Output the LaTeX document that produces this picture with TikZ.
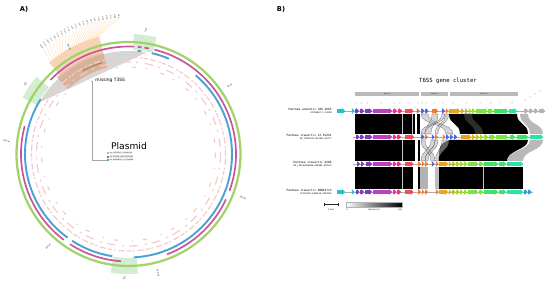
\documentclass[tikz,border=0pt]{standalone}
\usepackage{fontspec}
\setsansfont{DejaVu Sans}
\setmonofont{DejaVu Sans Mono}
\usepackage{tikz}
\usetikzlibrary{arrows.meta,positioning}

\definecolor{ringgreen}{HTML}{A2D36A}
\definecolor{ringmag}{HTML}{C8549C}
\definecolor{ringblue}{HTML}{4CA0D4}
\definecolor{featpink}{HTML}{F7CACA}
\definecolor{gigreen}{HTML}{CBEACB}
\definecolor{hrppeach}{HTML}{F6C8A2}
\definecolor{hrpbrown}{HTML}{D9A07C}
\definecolor{gcyan}{HTML}{22C3C8}
\definecolor{gpurple}{HTML}{7B3DC0}
\definecolor{gmagenta}{HTML}{C23CC4}
\definecolor{gpink}{HTML}{EB3285}
\definecolor{gred}{HTML}{F44A5C}
\definecolor{gorange}{HTML}{F67A30}
\definecolor{gblue}{HTML}{4A66E2}
\definecolor{gyellow}{HTML}{E8A41C}
\definecolor{ggold}{HTML}{C9BA1E}
\definecolor{glime}{HTML}{A6D828}
\definecolor{glgreen}{HTML}{7CE442}
\definecolor{ggreen}{HTML}{3EE46A}
\definecolor{gteal}{HTML}{2CE4A2}
\definecolor{gsky}{HTML}{2A98E2}
\definecolor{ggrey}{HTML}{B4B4B4}

\begin{document}
\begin{tikzpicture}[x=0.05cm, y=-0.05cm,
  panel/.style={font=\sffamily\bfseries\fontsize{9.5}{11}\selectfont, inner sep=0pt},
  gibox/.style={fill=gigreen, opacity=0.85},
  gilabel/.style={font=\sffamily\fontsize{3.2}{4}\selectfont, inner sep=0pt},
  ringline/.style={draw=#1},
  feat/.style={draw=featpink, line width=1.7pt},
  tick/.style={font=\sffamily\fontsize{2.8}{3.4}\selectfont, inner sep=0pt},
  hrpline/.style={draw=orange!45, line width=0.25pt},
  hrplabel/.style={font=\sffamily\fontsize{2.5}{3}\selectfont, inner sep=0pt, text=black!85},
  note/.style={font=\sffamily\fontsize{6.3}{7}\selectfont, inner sep=0.5pt},
  plasmidttl/.style={font=\sffamily\fontsize{13}{15}\selectfont, inner sep=0pt},
  legkey/.style={minimum size=2.6pt, inner sep=0pt},
  legtxt/.style={font=\sffamily\fontsize{2.4}{3}\selectfont, fill=gray!12, inner sep=0.4pt},
  title/.style={font=\ttfamily\fontsize{8}{9}\selectfont, inner sep=0pt},
  blockbar/.style={fill=gray!55},
  blocklbl/.style={font=\sffamily\fontsize{2.6}{3}\selectfont, inner sep=0pt, text=black!80},
  strain/.style={font=\ttfamily\fontsize{4.1}{5}\selectfont, anchor=south east, inner sep=0.3pt},
  acc/.style={font=\ttfamily\fontsize{3.1}{4}\selectfont, anchor=north east, inner sep=0.3pt},
  genelbl/.style={font=\sffamily\fontsize{2.2}{2.6}\selectfont, text=gray!70, rotate=50, anchor=south west, inner sep=0pt},
  backbone/.style={draw=gray!65, line width=0.35pt},
  gene/.style={draw=#1, line width=4.6pt, -{Triangle[length=3.8pt, width=8.2pt]}},
  xribbon/.style={fill=gray!60, fill opacity=0.55, draw=gray!30!black, line width=0.15pt},
  greyribbon/.style={fill=gray!55},
  scalebar/.style={{Bar[width=3pt]}-{Bar[width=3pt]}, line width=0.4pt, draw=gray!30!black},
  cbar/.style={font=\sffamily\fontsize{2.8}{3.4}\selectfont, inner sep=0pt}
]
\useasboundingbox (0,0) rectangle (550,283);

% A) plasmid map
\node[panel] (lblA) at (24,9) {A)};
\begin{scope}[shift={(128.5,154)}, yscale=-1]
  \foreach \a/\w/\n/\r in {82/5.5/1/-98, 146/6/2/-90, -92/6.5/3/-92}{
    \fill[gibox] (\a-\w:104) arc[start angle=\a-\w, end angle=\a+\w, radius=104]
      -- (\a+\w:120) arc[start angle=\a+\w, end angle=\a-\w, radius=120] -- cycle;
    \node[gilabel, rotate=\r] (gilbl\n) at (\a:124.5) {GI\textsubscript{\n}};
  }
  \fill[gray!32] (80:103) arc[start angle=80, end angle=150, radius=103] -- cycle;
  \fill[hrppeach, opacity=0.8] (104:105) arc[start angle=104, end angle=131, radius=105]
    -- (131:121) arc[start angle=131, end angle=104, radius=121] -- cycle;
  \fill[hrpbrown, opacity=0.65] (104:89) arc[start angle=104, end angle=133, radius=89]
    -- (133:105) arc[start angle=133, end angle=104, radius=105] -- cycle;
  \draw[hrpbrown!75!black, line width=1.3pt] (106:95) arc[start angle=106, end angle=119, radius=95];
  \draw[feat, dash pattern=on 6pt off 2pt on 3pt off 4pt on 9pt off 3pt] (0,0) circle[radius=97];
  \draw[feat, dash pattern=on 3pt off 7pt on 12pt off 10pt] (0,0) circle[radius=92];
  \draw[feat, dash pattern=on 2pt off 14pt on 6pt off 20pt] (0,0) circle[radius=87];
  \draw[ringline=ringgreen, line width=3.2pt] (0,0) circle[radius=112];
  \foreach \s/\e in {-20/76, -69/-25, 237/266, 165/233, 87/136.5, 79/81.5, 83/85}
    \draw[ringline=ringmag, line width=2.4pt] (\s:107.5) arc[start angle=\s, end angle=\e, radius=107.5];
  \foreach \s/\e in {-87/49.5, 67/77, 83/85, 148/234, 237/261}
    \draw[ringline=ringblue, line width=2.7pt] (\s:103.5) arc[start angle=\s, end angle=\e, radius=103.5];
  \foreach \a/\t in {34/50 kb, -21/100 kb, -76/150 kb}
    \node[tick, anchor=west, rotate=\a] (tk\a) at (\a:119) {\t};
  \foreach \a/\t in {-131/200 kb, 174/250 kb, 119/300 kb}
    \node[tick, anchor=east, rotate=\a-180] (tk\a) at (\a:119) {\t};
  \foreach \i/\g in {0/hrpA, 1/hrpB, 2/hrcJ, 3/hrpD, 4/hrpE, 5/hrpF, 6/hrcC, 7/hrpT,
      8/hrpV, 9/hrcU, 10/hrcT, 11/hrcS, 12/hrcR, 13/hrcQ, 14/hrpO, 15/hrpP, 16/hrcN,
      17/hrpJ, 18/hrcV, 19/hrpQ, 20/hrpK, 21/hrpN}{
    \pgfmathsetmacro\ain{105+\i*25/21}
    \pgfmathsetmacro\aout{94+\i*35/21}
    \node[hrplabel, anchor=east, rotate=\aout-180] (hrp\i) at (\aout:136) {\g};
    \draw[hrpline] (\ain:121) -- (hrp\i.east);
  }
\end{scope}

\node[note, anchor=west] (missing) at (95,80) {missing T3SS};
\coordinate (t3mark) at (92,80.5);
\node[plasmidttl] (plasmid) at (129,146) {Plasmid};
\node[legkey, fill=ringgreen] (key1) at (108,153.2) {};
\node[legtxt, right=0.5pt of key1] (leg1) {P.s. ZJ-FGZX1 \,|\, CP049116};
\node[legkey, fill=ringmag] (key2) at (108,156.6) {};
\node[legtxt, right=0.5pt of key2] (leg2) {P.s. DC283 \,|\, NZ\_CP017592};
\node[legkey, fill=ringblue] (key3) at (108,160) {};
\node[legtxt, right=0.5pt of key3] (leg3) {P.s. RON18713 \,|\, CP116286};
\draw[gray!70, line width=0.4pt, {Triangle[length=2.2pt, width=2.2pt]}-] (t3mark) |- (key3.west);

% B) T6SS synteny
\node[panel] (lblB) at (281,9) {B)};
\node[title] (t6ss) at (448,81) {T6SS gene cluster};
\foreach \s/\e/\n/\t in {355/419/I/block I, 421/448/II/block II, 450/518/III/block III}{
  \fill[blockbar] (\s,92) rectangle (\e,96.5);
  \node[blocklbl] (blk\n) at ({(\s+\e)/2},94.3) {\t};
}

% rows 1-2
\fill[black] (355,114) rectangle (415,134);
\fill[black] (417,114) rectangle (420,134);
\fill[black] (449,114) .. controls (449,125) and (460,123) .. (460,134) -- (528,134)
  .. controls (528,123) and (517,125) .. (517,114) -- cycle;
\fill[gray!35!black] (464,114) .. controls (464,125) and (475,123) .. (475,134) -- (483,134)
  .. controls (483,123) and (472,125) .. (472,114) -- cycle;
\fill[greyribbon] (520,114) .. controls (520,125) and (530,123) .. (530,134) -- (543,134)
  .. controls (543,123) and (528,125) .. (528,114) -- cycle;
\foreach \a/\b/\c/\d in {421/428/446/453, 432/438/425/431, 442/445/421/424.5, 445.5/448.5/435/438}
  \filldraw[xribbon] (\a,114) .. controls (\a,125) and (\c,123) .. (\c,134) -- (\d,134)
    .. controls (\d,123) and (\b,125) .. (\b,114) -- cycle;
% rows 2-3
\fill[black] (355,140) rectangle (415,161);
\fill[black] (418,140) rectangle (420,161);
\fill[black] (450,140) .. controls (438,143) and (439,150) .. (439,161) -- (507,161)
  .. controls (507,150) and (528,150) .. (528,140) -- cycle;
\fill[greyribbon] (530,140) .. controls (530,151) and (507,150) .. (507,161) -- (523,161)
  .. controls (523,150) and (543,151) .. (543,140) -- cycle;
\foreach \a/\b/\c/\d in {421/425/431/435, 431/435/421/425, 435/438/425/428, 442/449/435.5/438.5}
  \filldraw[xribbon] (\a,140) .. controls (\a,151) and (\c,150) .. (\c,161) -- (\d,161)
    .. controls (\d,150) and (\b,151) .. (\b,140) -- cycle;
% rows 3-4
\fill[black] (355,167) rectangle (413,189);
\fill[black] (418,167) rectangle (419.5,189);
\fill[gray!60] (419.5,167) rectangle (428,189);
\fill[gray!50] (435,167) rectangle (438.5,189);
\fill[black] (439,167) rectangle (523,189);
\foreach \x/\ya/\yb in {402.5/114/134, 412/114/134, 402.5/140/161, 402.5/167/189, 483/167/189}
  \draw[gray!45, line width=0.3pt] (\x,\ya) -- (\x,\yb);

% backbones and genes
\draw[backbone] (337,111) -- (545,111);
\draw[backbone] (353,137) -- (543,137);
\draw[backbone] (353,164) -- (523,164);
\draw[backbone] (337,192) -- (533,192);
\foreach \s/\e/\c in {337/345/gcyan, 351.5/354.5/gcyan, 355/359/gpurple, 359.5/364/gpurple,
    365/372/gpurple, 372.5/392/gmagenta, 392.5/397/gpink, 397.5/402/gpink, 405/413.5/gred,
    416.5/419.5/gred, 421/424.5/gblue, 425/428.5/gblue, 432/438/gorange, 442/445/gblue,
    445.5/448.5/gorange, 449/460/gyellow, 460.5/464/gyellow, 464.5/468/ggold, 468.5/471.5/glime,
    472/475/glime, 475.5/487.5/glgreen, 488/493/glgreen, 494/508/ggreen, 509/517/gteal,
    524/528/ggrey, 529/533/ggrey, 534/538/ggrey, 539/545/ggrey}
  \draw[gene=\c] (\s,111) -- (\e,111);
\foreach \s/\e/\c in {355.5/359.5/gpurple, 360/364/gpurple, 365/372/gpurple, 372.5/392/gmagenta,
    392.5/396.5/gpink, 397/401/gpink, 405/414/gred, 421/424.5/gblue, 425/428/gorange,
    431.5/434.5/gblue, 435/438/gorange, 442.5/445.5/gorange, 446/449/gblue, 450/453/gblue,
    453.5/457/gblue, 461/471/gyellow, 472/475/ggold, 475.5/479/ggold, 479.5/483/glime,
    483.5/488/glime, 489/495/glgreen, 496/508/glgreen, 510/515/ggreen, 517/528/ggreen, 530/543/gteal}
  \draw[gene=\c] (\s,137) -- (\e,137);
\foreach \s/\e/\c in {357/360/gpurple, 360.5/364/gpurple, 365.5/372/gpurple, 372.5/392/gmagenta,
    392.5/396.5/gpink, 397/401/gpink, 405/413.5/gred, 418/421/gorange, 421.5/424.5/gorange,
    425/428/gorange, 431.5/434.5/gblue, 435.5/438.5/gorange, 439/448/gyellow, 448.5/451.5/ggold,
    452/455.5/ggold, 456/459.5/glime, 460/463/glime, 463.5/467/glime, 467.5/478/glgreen,
    479/483/glgreen, 484/498/ggreen, 499/506/ggreen, 507/523/gteal}
  \draw[gene=\c] (\s,164) -- (\e,164);
\foreach \s/\e/\c in {337/345/gcyan, 351.5/354.5/gcyan, 355.5/359.5/gpurple, 360/364/gpurple,
    365/372/gpurple, 372.5/392/gmagenta, 392.5/396.5/gpink, 397/401/gpink, 405/413.5/gred,
    418/421/gorange, 421.5/424.5/gorange, 425/428/gorange, 435.5/438.5/gorange, 439/448/gyellow,
    448.5/451.5/ggold, 452/455.5/ggold, 456/459.5/glime, 460/463/glime, 463.5/467/glime,
    467.5/478/glgreen, 479/483/glgreen, 484/498/ggreen, 499/506/ggreen, 507/523/gteal,
    524/527.5/gsky, 528/531.5/gsky}
  \draw[gene=\c] (\s,192) -- (\e,192);
\foreach \x/\y/\g in {356/105/tssA, 361/105/tssB, 367/105/tssC, 381/105/tssE, 394/105/tssF,
    399/105/tssG, 408/105/tssH, 418/105/hcp, 422/105/tagF, 426/105/tagL, 434/105/tssI,
    443/105/paar, 453/105/tssJ, 466/105/tssK, 480/105/tssL, 490/105/tssM, 500/105/vgrG,
    512/105/tagA, 525/102/hyp, 530/99/hyp, 535/96/hyp, 540/93/hyp}
  \node[genelbl] (gl\x) at (\x,\y) {\g};

% strain labels
\node[strain] (sp1) at (332,110.6) {\textit{Pantoea ananatis} LMG 2665};
\node[acc] (ac1) at (332,111.4) {KF590067:1-12898};
\node[strain] (sp2) at (332,136.6) {\textit{Pantoea stewartii} ZJ-FGZX1};
\node[acc] (ac2) at (332,137.4) {NZ\_CP049115:933925-96777};
\node[strain] (sp3) at (332,163.6) {\textit{Pantoea stewartii} A206};
\node[acc] (ac3) at (332,164.4) {NZ\_LIKC01000006:649806-679531};
\node[strain] (sp4) at (332,191.6) {\textit{Pantoea stewartii} RON18713};
\node[acc] (ac4) at (332,192.4) {CP116285:3468128-3497845};

% scale and identity bar
\coordinate (sb0) at (324,204.5);
\coordinate (sb1) at (338,204.5);
\draw[scalebar] (sb0) -- (sb1);
\node[cbar] (sblbl) at (331,209.5) {2.5kb};
\shadedraw[left color=white, right color=black, draw=gray!60, line width=0.2pt] (346,202.5) rectangle (402,207);
\node[cbar] (cb0) at (347,210) {0};
\node[cbar] (cbid) at (374,210) {Identity (\%)};
\node[cbar] (cb100) at (400,210) {100};
\end{tikzpicture}
\end{document}
